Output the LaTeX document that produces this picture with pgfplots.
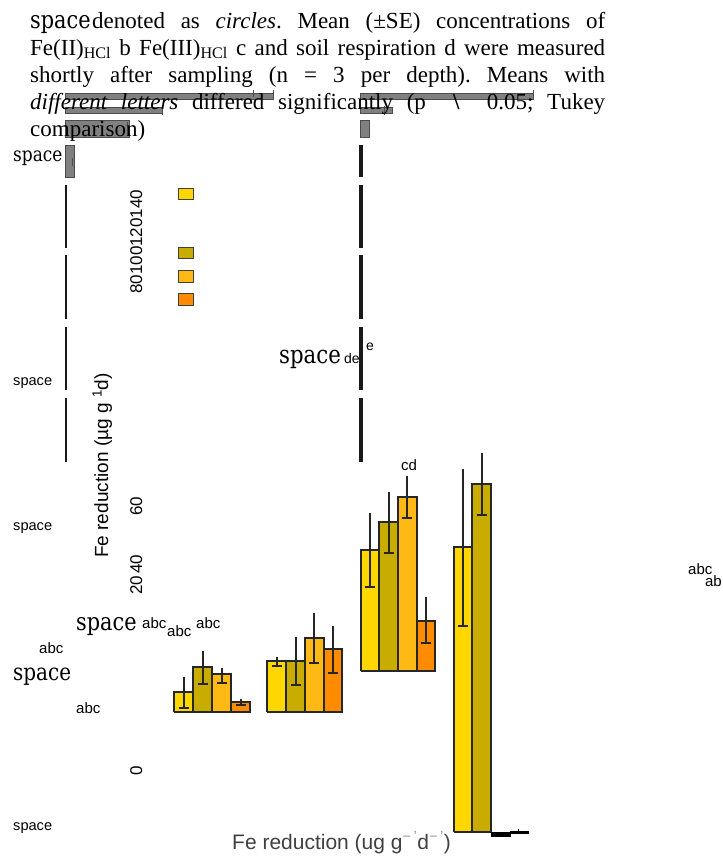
\documentclass[border=0pt]{standalone}
\usepackage{pgfplots}
\pgfplotsset{compat=1.18}
\usepackage{fontspec}
\setmainfont{Liberation Serif}
\setsansfont{Liberation Sans}
\newfontfamily\djs{DejaVu Serif}
\definecolor{cgold}{HTML}{FFD700}
\definecolor{colive}{HTML}{C9AC00}
\definecolor{camber}{HTML}{FFB914}
\definecolor{corange}{HTML}{FF8C00}
\definecolor{barline}{HTML}{262626}
\definecolor{gbar}{HTML}{808080}
\newcommand{\fbar}[5]{\addplot[fill=#1,draw=barline,line width=1.1pt] coordinates {(#2,#5)(#2,#4)(#3,#4)(#3,#5)(#2,#5)};}
\newcommand{\gbar}[4]{\addplot[fill=gbar,draw=black!70,line width=0.8pt] coordinates {(#1,#4)(#1,#3)(#2,#3)(#2,#4)(#1,#4)};}
\newcommand{\ebar}[3]{\addplot[draw=black!85,line width=1.1pt,mark=-,mark size=5pt,mark indices={2},mark options={line width=1.1pt}] coordinates {(#1,#2)(#1,#3)};}
\newcommand{\spc}[1]{{\djs\fontsize{#1}{#1}\selectfont\scalebox{0.85}[1]{space}}}
\frenchspacing
\begin{document}
\begin{tikzpicture}
\begin{axis}[width=723pt,height=865pt,scale only axis,xmin=0,xmax=723,ymin=0,ymax=865,y dir=reverse,hide axis,clip=false]
% dashed axis lines
\addplot[draw=black!90,line width=2.2pt] coordinates {(66,185)(66,248)};
\addplot[draw=black!90,line width=2.2pt] coordinates {(66,255)(66,319)};
\addplot[draw=black!90,line width=2.2pt] coordinates {(66,327)(66,390)};
\addplot[draw=black!90,line width=2.2pt] coordinates {(66,398)(66,462)};
\addplot[draw=black!90,line width=3.8pt] coordinates {(361,145)(361,177)};
\addplot[draw=black!90,line width=3.8pt] coordinates {(361,185)(361,248)};
\addplot[draw=black!90,line width=3.8pt] coordinates {(361,255)(361,319)};
\addplot[draw=black!90,line width=3.8pt] coordinates {(361,327)(361,390)};
\addplot[draw=black!90,line width=3.8pt] coordinates {(361,398)(361,462)};
% grey horizontal bars
\gbar{65}{273}{93}{99}
\gbar{65}{162}{107}{113}
\gbar{65}{129}{120}{137}
\gbar{65}{74}{145}{177}
\gbar{360}{533}{93}{99}
\gbar{360}{392}{107}{113}
\gbar{360}{369}{120}{137}
\addplot[draw=black!70,line width=0.8pt] coordinates {(253,90)(253,97)};
\addplot[draw=black!70,line width=0.8pt] coordinates {(273,90)(273,100)};
\addplot[draw=black!70,line width=0.8pt] coordinates {(162,106)(162,115)};
\addplot[draw=black!70,line width=0.8pt] coordinates {(127,122)(127,135)};
\addplot[draw=black!70,line width=0.8pt] coordinates {(72,158)(72,166)};
\addplot[draw=black!70,line width=0.8pt] coordinates {(533,90)(533,100)};
\addplot[draw=black!70,line width=0.8pt] coordinates {(384,106)(384,115)};
% legend squares
\addplot[fill=cgold,draw=black!75,line width=0.8pt] coordinates {(178,188)(178,199)(193,199)(193,188)(178,188)};
\addplot[fill=colive,draw=black!75,line width=0.8pt] coordinates {(178,247)(178,258)(193,258)(193,247)(178,247)};
\addplot[fill=camber,draw=black!75,line width=0.8pt] coordinates {(178,270)(178,282)(193,282)(193,270)(178,270)};
\addplot[fill=corange,draw=black!75,line width=0.8pt] coordinates {(178,293)(178,305)(193,305)(193,293)(178,293)};
% group 1
\fbar{cgold}{174}{193}{692}{712}
\fbar{colive}{193}{212}{667}{712}
\fbar{camber}{212}{231}{674}{712}
\fbar{corange}{231}{250}{702}{712}
\ebar{184}{677}{708}
\ebar{203}{651}{684}
\ebar{222}{668}{683}
\ebar{241}{699}{705}
% group 2
\fbar{cgold}{267}{286}{661}{712}
\fbar{colive}{286}{305}{661}{712}
\fbar{camber}{305}{324}{638}{712}
\fbar{corange}{324}{342}{649}{712}
\ebar{277}{657}{666}
\ebar{296}{637}{685}
\ebar{314}{613}{663}
\ebar{333}{626}{673}
% group 3
\fbar{cgold}{361}{379}{550}{671}
\fbar{colive}{379}{398}{522}{671}
\fbar{camber}{398}{417}{497}{671}
\fbar{corange}{417}{435}{621}{671}
\ebar{370}{513}{587}
\ebar{389}{492}{553}
\ebar{407}{476}{518}
\ebar{426}{597}{643}
% group 4
\fbar{cgold}{454}{472}{547}{832}
\fbar{colive}{472}{491}{484}{832}
\ebar{463}{469}{626}
\ebar{482}{453}{515}
\addplot[fill=black,draw=black,line width=0.6pt] coordinates {(491,832)(491,836)(510,836)(510,832)(491,832)};
\addplot[fill=black,draw=black,line width=0.6pt] coordinates {(510,831)(510,833)(528,833)(528,831)(510,831)};
\addplot[draw=black,line width=0.8pt] coordinates {(518,829)(518,833)};
% caption text (on top of the grey bars)
\node[anchor=base west,inner sep=0pt] at (30,28) {\spc{24.5}};
\node[anchor=base west,inner sep=0pt,font=\fontsize{23}{27}\selectfont] at (92,28) {\makebox[513pt][s]{denoted as \textit{circles}. Mean (±SE) concentrations of}};
\node[anchor=base west,inner sep=0pt,font=\fontsize{23}{27}\selectfont] at (30,55) {\makebox[575pt][s]{Fe(II)\textsubscript{HCl} b Fe(III)\textsubscript{HCl} c and soil respiration d were measured}};
\node[anchor=base west,inner sep=0pt,font=\fontsize{23}{27}\selectfont] at (30,82) {\makebox[575pt][s]{shortly after sampling (n = 3 per depth). Means with}};
\node[anchor=base west,inner sep=0pt,font=\fontsize{23}{27}\selectfont] at (30,109) {\makebox[575pt][s]{\textit{different letters} differed significantly (p \ {\bfseries\textbackslash}\ \ 0.05; Tukey}};
\node[anchor=base west,inner sep=0pt,font=\fontsize{23}{27}\selectfont] at (30,136) {comparison)};
% stray labels
\node[anchor=base west,inner sep=0pt] at (13,161) {\spc{20}};
\node[anchor=base west,inner sep=0pt] at (13,680) {\spc{23.5}};
\node[anchor=base west,inner sep=0pt] at (76,630) {\spc{24.5}};
\node[anchor=base west,inner sep=0pt] at (279,363) {\spc{25}};
\node[anchor=base west,inner sep=0pt,font=\sffamily\fontsize{14.6}{17}\selectfont] at (13,385) {space};
\node[anchor=base west,inner sep=0pt,font=\sffamily\fontsize{14.6}{17}\selectfont] at (13,530) {space};
\node[anchor=base west,inner sep=0pt,font=\sffamily\fontsize{14.6}{17}\selectfont] at (13,830) {space};
\node[anchor=base west,inner sep=0pt,font=\sffamily\fontsize{15}{17}\selectfont] at (39,653) {abc};
\node[anchor=base west,inner sep=0pt,font=\sffamily\fontsize{15}{17}\selectfont] at (76,713) {abc};
\node[anchor=base west,inner sep=0pt,font=\sffamily\fontsize{15}{17}\selectfont] at (142,628) {abc};
\node[anchor=base west,inner sep=0pt,font=\sffamily\fontsize{15}{17}\selectfont] at (167,636) {abc};
\node[anchor=base west,inner sep=0pt,font=\sffamily\fontsize{15}{17}\selectfont] at (196,628) {abc};
\node[anchor=base west,inner sep=0pt,font=\sffamily\fontsize{14}{17}\selectfont] at (344,363) {de};
\node[anchor=base west,inner sep=0pt,font=\sffamily\fontsize{14}{17}\selectfont] at (366,350) {e};
\node[anchor=base west,inner sep=0pt,font=\sffamily\fontsize{15}{17}\selectfont] at (401,470) {cd};
\node[anchor=base west,inner sep=0pt,font=\sffamily\fontsize{15}{17}\selectfont] at (688,574) {abc};
\node[anchor=base east,inner sep=0pt,font=\sffamily\fontsize{15}{17}\selectfont] at (722,586) {ab};
% tick labels and axis labels
\node[rotate=90,anchor=base west,inner sep=0pt,font=\sffamily\fontsize{17}{20}\selectfont] at (142,294) {80100120140};
\node[rotate=90,anchor=base west,inner sep=0pt,font=\sffamily\fontsize{17}{20}\selectfont] at (142,516) {60};
\node[rotate=90,anchor=base west,inner sep=0pt,font=\sffamily\fontsize{17}{20}\selectfont] at (142,595) {20\hspace{2pt}40};
\node[rotate=90,anchor=base west,inner sep=0pt,font=\sffamily\fontsize{17}{20}\selectfont] at (142,776) {0};
\node[rotate=90,anchor=base west,inner sep=0pt,font=\sffamily\fontsize{19}{22}\selectfont] at (108,558) {Fe reduction (µg g \textsuperscript{1}d)};
\node[anchor=base west,inner sep=0pt,text=black!75,font=\sffamily\fontsize{21}{24}\selectfont] at (232,849) {Fe reduction (ug g\textsuperscript{\color{black!40}−\,'}d\textsuperscript{\color{black!40}−\,'})};
\end{axis}
\pgfresetboundingbox
\path (0,0) rectangle (723pt,865pt);
\end{tikzpicture}
\end{document}
